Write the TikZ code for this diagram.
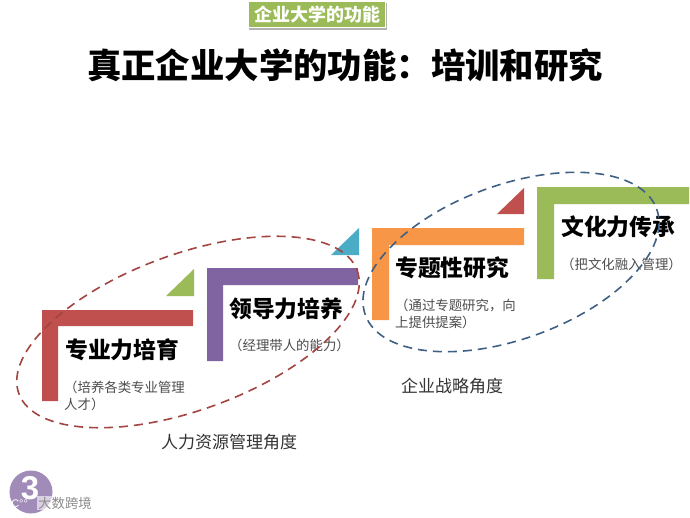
\documentclass[tikz,border=0pt]{standalone}
\usepackage{fontspec}
\newfontfamily\cjk{Noto Sans CJK SC}
\newfontfamily\arialish{Liberation Sans}
\setmainfont{Noto Sans CJK SC}
\definecolor{cred}{HTML}{C0504D}
\definecolor{cgreen}{HTML}{9BBB59}
\definecolor{cpurple}{HTML}{8064A2}
\definecolor{ccyan}{HTML}{4BACC6}
\definecolor{corange}{HTML}{F79646}
\definecolor{cblue}{HTML}{3F6085}
\tikzset{
  heading/.style={font=\cjk\bfseries\fontsize{22.8}{26}\selectfont,text=black,inner sep=0pt,anchor=west},
  desc/.style={font=\cjk\fontsize{13.4}{17}\selectfont,text=black!70,inner sep=0pt,anchor=north west,align=left},
  axislabel/.style={font=\cjk\fontsize{17}{20}\selectfont,text=black!80,inner sep=0pt},
  ringline/.style={dash pattern=on 9pt off 6pt,line width=1.6pt}
}
\begin{document}
\begin{tikzpicture}[x=1pt,y=-1pt]
\useasboundingbox (0,0) rectangle (690,517);
% banner
\fill[black!30] (249,3) rectangle (387,30);
\node[fill=cgreen,draw=white,line width=1pt,minimum width=137pt,minimum height=26pt,inner sep=0pt,text=white,font=\cjk\bfseries\fontsize{18}{20}\selectfont] (banner) at (317,14.5) {企业大学的功能};
\node[font=\cjk\bfseries\fontsize{34.4}{40}\selectfont,inner sep=0pt] (title) at (345,65) {真正企业大学的功能：培训和研究};
% steps
\fill[cred] (42,310) -- (193,310) -- (193,326) -- (58,326) -- (58,401) -- (42,401) -- cycle;
\fill[cgreen] (194,269) -- (194,296) -- (166,296) -- cycle;
\fill[cpurple] (207,268) -- (358,268) -- (358,285) -- (223,285) -- (223,361) -- (207,361) -- cycle;
\fill[ccyan] (359,228) -- (359,255) -- (331,255) -- cycle;
\fill[corange] (372,228) -- (524,228) -- (524,245) -- (389,245) -- (389,320) -- (372,320) -- cycle;
\fill[cred] (524,188) -- (524,214) -- (497,214) -- cycle;
\fill[cgreen] (537,187) -- (689,187) -- (689,204) -- (554,204) -- (554,279) -- (537,279) -- cycle;
% headings
\node[heading] (h1) at (65,350) {专业力培育};
\node[heading] (h2) at (229,309) {领导力培养};
\node[heading] (h3) at (395,268) {专题性研究};
\node[heading] (h4) at (561,227) {文化力传承};
% descriptions
\node[desc] (d1) at (64,381) {（培养各类专业管理\\人才）};
\node[desc] (d2) at (229,339) {（经理带人的能力）};
\node[desc] (d3) at (395,299) {（通过专题研究，向\\上提供提案）};
\node[desc] (d4) at (561,258) {（把文化融入管理）};
% rings
\draw[ringline,color=cred!85!black] (188,332) ellipse[x radius=180,y radius=78,rotate=20];
\draw[ringline,color=cblue] (511,262) ellipse[x radius=155,y radius=77,rotate=20];
% axis labels
\node[axislabel] (a1) at (229,442) {人力资源管理角度};
\node[axislabel] (a2) at (452,386) {企业战略角度};
% badge
\node[circle,fill=cpurple!75,minimum size=43pt,inner sep=0pt] (badge) at (31,492) {};
\node[text=white,font=\arialish\bfseries\fontsize{33}{33}\selectfont,inner sep=0pt] (three) at (30,488) {3};
\node[font=\cjk\fontsize{13.4}{16}\selectfont,text=black!45,fill=white,fill opacity=.6,text opacity=1,inner sep=1pt,anchor=west] (wm) at (37,503) {大数跨境};
\node[font=\arialish\fontsize{11}{13}\selectfont,text=white,inner sep=0pt,anchor=west] (wmlogo) at (8,504) {IC°°};
\end{tikzpicture}
\end{document}
